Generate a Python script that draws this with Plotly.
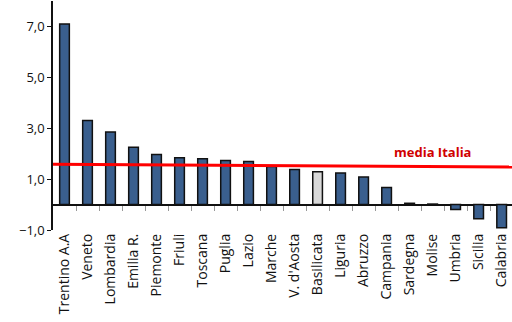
import plotly.graph_objects as go

regioni = ['Trentino A.A', 'Veneto', 'Lombardia', 'Emilia R.', 'Piemonte', 'Friuli',
           'Toscana', 'Puglia', 'Lazio', 'Marche', "V. d'Aosta", 'Basilicata',
           'Liguria', 'Abruzzo', 'Campania', 'Sardegna', 'Molise', 'Umbria',
           'Sicilia', 'Calabria']
valori = [7.1, 3.3, 2.85, 2.25, 1.97, 1.84, 1.80, 1.73, 1.69, 1.5, 1.38, 1.29,
          1.24, 1.08, 0.67, 0.05, 0.02, -0.19, -0.56, -0.91]
# the average line in the source is drawn slightly sloped
media_x = [-0.5, 19.45]
media_y = [1.58, 1.48]

pos = list(range(len(regioni)))
colori = ['#D9D9D9' if r == 'Basilicata' else '#3A5F8E' for r in regioni]
xr = [-0.5, 19.45]
yr = [-1, 8]

fig = go.Figure()
fig.add_trace(go.Bar(x=pos, y=valori, width=0.42,
                     marker=dict(color=colori, line=dict(color='#111111', width=1.5)),
                     showlegend=False))
fig.add_trace(go.Scatter(x=media_x, y=media_y, mode='lines',
                         line=dict(color='#FF0000', width=3), showlegend=False))
# invisible trace so the tick axis at zero is drawn
fig.add_trace(go.Scatter(x=[0], y=[0], xaxis='x2', mode='markers',
                         marker=dict(opacity=0), showlegend=False, hoverinfo='skip'))

fig.add_annotation(x=16.0, y=2.06, text='<b>media Italia</b>', showarrow=False,
                   font=dict(color='#D00000', size=13, family='Open Sans'))

fig.update_layout(
    width=512, height=322,
    margin=dict(l=53, r=0, t=1, b=92),
    plot_bgcolor='white', paper_bgcolor='white',
    font=dict(family='Open Sans', color='#222222'),
    xaxis=dict(range=xr, tickvals=pos, ticktext=regioni, automargin=False,
               tickangle=-90, tickfont=dict(size=14, color='#111111'),
               ticklabeloverflow='allow',
               showline=False, showgrid=False, zeroline=False, ticks=''),
    xaxis2=dict(range=xr, overlaying='x', anchor='free', position=1 / (yr[1] - yr[0]),
                side='bottom', tickvals=[p + 0.5 for p in pos], ticks='outside',
                ticklen=5, tickcolor='#999999', showticklabels=False, automargin=False,
                showline=False, showgrid=False, zeroline=False),
    yaxis=dict(range=yr, tickvals=[-1, 1, 3, 5, 7], tickformat='.1f',
               tickfont=dict(size=13, color='#111111'), automargin=False,
               showline=True, linecolor='#111111', linewidth=1.5,
               ticks='outside', ticklen=4, tickcolor='#111111',
               showgrid=False, zeroline=True, zerolinecolor='#111111',
               zerolinewidth=1.5),
    separators=',.',
)

# drop the default page margin so the figure fills the window
fig.write_html("out.html", config={'displayModeBar': False},
               post_script="document.body.style.margin='0';document.body.style.overflow='hidden';")
